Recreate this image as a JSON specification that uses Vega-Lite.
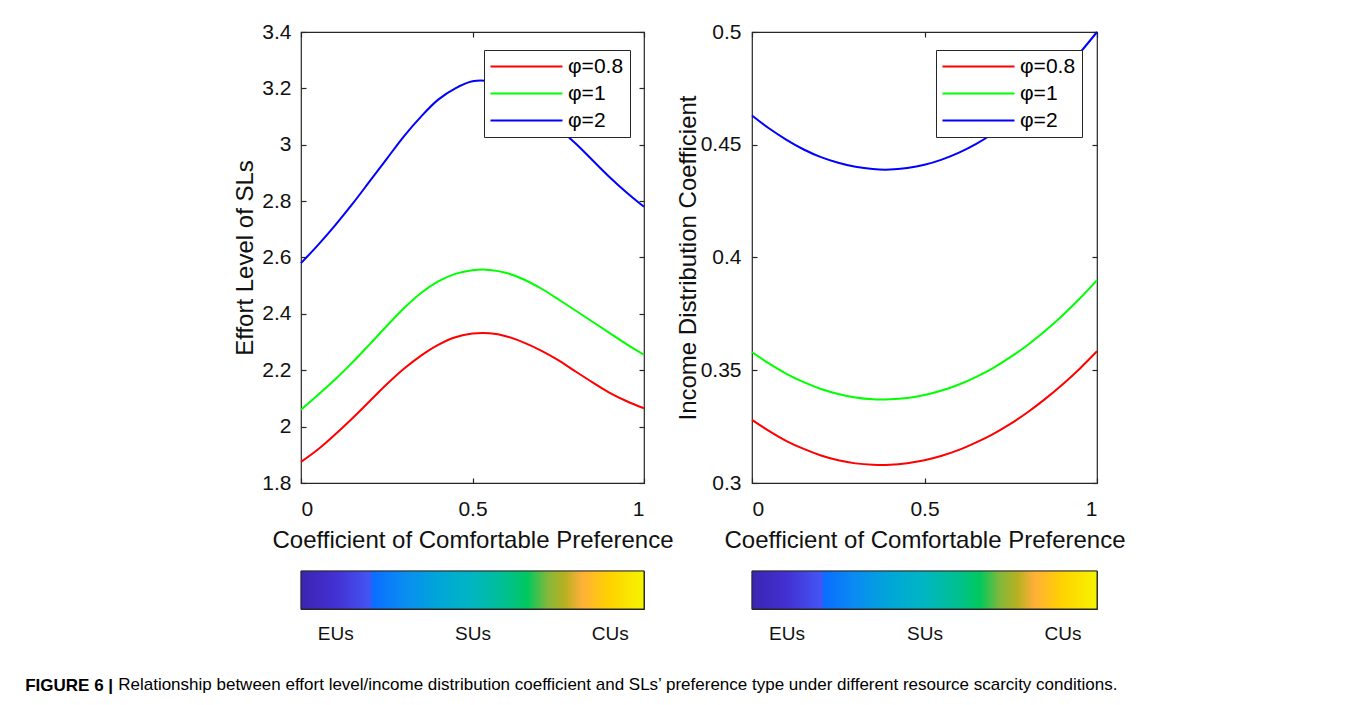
{
  "$schema": "https://vega.github.io/schema/vega-lite/v6.json",
  "padding": {"left": 25, "top": 20, "right": 5, "bottom": 5},
  "background": "white",
  "title": {
    "text": "Relationship between effort level/income distribution coefficient and SLs’ preference type under different resource scarcity conditions.",
    "orient": "bottom", "anchor": "start", "fontSize": 17, "font": "Liberation Sans", "fontWeight": "normal",
    "color": "#000000", "offset": -17, "dx": 93
  },
  "datasets": {
    "effort": [
      {"c":0,"phi":"φ=0.8","v":1.875},{"c":0.05,"phi":"φ=0.8","v":1.92},{"c":0.1,"phi":"φ=0.8","v":1.973},{"c":0.15,"phi":"φ=0.8","v":2.03},{"c":0.2,"phi":"φ=0.8","v":2.09},{"c":0.25,"phi":"φ=0.8","v":2.15},{"c":0.3,"phi":"φ=0.8","v":2.205},{"c":0.35,"phi":"φ=0.8","v":2.252},{"c":0.4,"phi":"φ=0.8","v":2.29},{"c":0.45,"phi":"φ=0.8","v":2.317},{"c":0.5,"phi":"φ=0.8","v":2.33},{"c":0.55,"phi":"φ=0.8","v":2.331},{"c":0.6,"phi":"φ=0.8","v":2.32},{"c":0.65,"phi":"φ=0.8","v":2.298},{"c":0.7,"phi":"φ=0.8","v":2.27},{"c":0.75,"phi":"φ=0.8","v":2.236},{"c":0.8,"phi":"φ=0.8","v":2.196},{"c":0.85,"phi":"φ=0.8","v":2.157},{"c":0.9,"phi":"φ=0.8","v":2.12},{"c":0.95,"phi":"φ=0.8","v":2.09},{"c":1,"phi":"φ=0.8","v":2.065},
      {"c":0,"phi":"φ=1","v":2.06},{"c":0.05,"phi":"φ=1","v":2.113},{"c":0.1,"phi":"φ=1","v":2.168},{"c":0.15,"phi":"φ=1","v":2.228},{"c":0.2,"phi":"φ=1","v":2.292},{"c":0.25,"phi":"φ=1","v":2.357},{"c":0.3,"phi":"φ=1","v":2.42},{"c":0.35,"phi":"φ=1","v":2.474},{"c":0.4,"phi":"φ=1","v":2.515},{"c":0.45,"phi":"φ=1","v":2.542},{"c":0.5,"phi":"φ=1","v":2.555},{"c":0.55,"phi":"φ=1","v":2.556},{"c":0.6,"phi":"φ=1","v":2.545},{"c":0.65,"phi":"φ=1","v":2.522},{"c":0.7,"phi":"φ=1","v":2.49},{"c":0.75,"phi":"φ=1","v":2.452},{"c":0.8,"phi":"φ=1","v":2.412},{"c":0.85,"phi":"φ=1","v":2.372},{"c":0.9,"phi":"φ=1","v":2.332},{"c":0.95,"phi":"φ=1","v":2.292},{"c":1,"phi":"φ=1","v":2.255},
      {"c":0,"phi":"φ=2","v":2.58},{"c":0.05,"phi":"φ=2","v":2.645},{"c":0.1,"phi":"φ=2","v":2.715},{"c":0.15,"phi":"φ=2","v":2.79},{"c":0.2,"phi":"φ=2","v":2.87},{"c":0.25,"phi":"φ=2","v":2.95},{"c":0.3,"phi":"φ=2","v":3.03},{"c":0.35,"phi":"φ=2","v":3.1},{"c":0.4,"phi":"φ=2","v":3.16},{"c":0.45,"phi":"φ=2","v":3.2},{"c":0.5,"phi":"φ=2","v":3.225},{"c":0.55,"phi":"φ=2","v":3.225},{"c":0.6,"phi":"φ=2","v":3.205},{"c":0.65,"phi":"φ=2","v":3.165},{"c":0.7,"phi":"φ=2","v":3.115},{"c":0.75,"phi":"φ=2","v":3.06},{"c":0.8,"phi":"φ=2","v":3.005},{"c":0.85,"phi":"φ=2","v":2.945},{"c":0.9,"phi":"φ=2","v":2.885},{"c":0.95,"phi":"φ=2","v":2.83},{"c":1,"phi":"φ=2","v":2.78}
    ],
    "income": [
      {"c":0,"phi":"φ=0.8","v":0.328},{"c":0.05,"phi":"φ=0.8","v":0.323},{"c":0.1,"phi":"φ=0.8","v":0.3186},{"c":0.15,"phi":"φ=0.8","v":0.3151},{"c":0.2,"phi":"φ=0.8","v":0.3122},{"c":0.25,"phi":"φ=0.8","v":0.3101},{"c":0.3,"phi":"φ=0.8","v":0.3087},{"c":0.35,"phi":"φ=0.8","v":0.3081},{"c":0.4,"phi":"φ=0.8","v":0.3081},{"c":0.45,"phi":"φ=0.8","v":0.3088},{"c":0.5,"phi":"φ=0.8","v":0.3101},{"c":0.55,"phi":"φ=0.8","v":0.3121},{"c":0.6,"phi":"φ=0.8","v":0.3147},{"c":0.65,"phi":"φ=0.8","v":0.318},{"c":0.7,"phi":"φ=0.8","v":0.3218},{"c":0.75,"phi":"φ=0.8","v":0.3263},{"c":0.8,"phi":"φ=0.8","v":0.3315},{"c":0.85,"phi":"φ=0.8","v":0.3373},{"c":0.9,"phi":"φ=0.8","v":0.3437},{"c":0.95,"phi":"φ=0.8","v":0.3507},{"c":1,"phi":"φ=0.8","v":0.3584},
      {"c":0,"phi":"φ=1","v":0.3581},{"c":0.05,"phi":"φ=1","v":0.3529},{"c":0.1,"phi":"φ=1","v":0.3484},{"c":0.15,"phi":"φ=1","v":0.3447},{"c":0.2,"phi":"φ=1","v":0.3417},{"c":0.25,"phi":"φ=1","v":0.3395},{"c":0.3,"phi":"φ=1","v":0.3379},{"c":0.35,"phi":"φ=1","v":0.3371},{"c":0.4,"phi":"φ=1","v":0.3371},{"c":0.45,"phi":"φ=1","v":0.3377},{"c":0.5,"phi":"φ=1","v":0.339},{"c":0.55,"phi":"φ=1","v":0.341},{"c":0.6,"phi":"φ=1","v":0.3437},{"c":0.65,"phi":"φ=1","v":0.3471},{"c":0.7,"phi":"φ=1","v":0.3511},{"c":0.75,"phi":"φ=1","v":0.3559},{"c":0.8,"phi":"φ=1","v":0.3613},{"c":0.85,"phi":"φ=1","v":0.3675},{"c":0.9,"phi":"φ=1","v":0.3743},{"c":0.95,"phi":"φ=1","v":0.3818},{"c":1,"phi":"φ=1","v":0.39},
      {"c":0,"phi":"φ=2","v":0.463},{"c":0.05,"phi":"φ=2","v":0.4572},{"c":0.1,"phi":"φ=2","v":0.4522},{"c":0.15,"phi":"φ=2","v":0.4479},{"c":0.2,"phi":"φ=2","v":0.4445},{"c":0.25,"phi":"φ=2","v":0.442},{"c":0.3,"phi":"φ=2","v":0.4402},{"c":0.35,"phi":"φ=2","v":0.4392},{"c":0.4,"phi":"φ=2","v":0.439},{"c":0.45,"phi":"φ=2","v":0.4397},{"c":0.5,"phi":"φ=2","v":0.4411},{"c":0.55,"phi":"φ=2","v":0.4434},{"c":0.6,"phi":"φ=2","v":0.4465},{"c":0.65,"phi":"φ=2","v":0.4504},{"c":0.7,"phi":"φ=2","v":0.4551},{"c":0.75,"phi":"φ=2","v":0.4606},{"c":0.8,"phi":"φ=2","v":0.4669},{"c":0.85,"phi":"φ=2","v":0.474},{"c":0.9,"phi":"φ=2","v":0.482},{"c":0.95,"phi":"φ=2","v":0.4907},{"c":1,"phi":"φ=2","v":0.5}
    ],
    "bar": [{"from": 0, "to": 1}]
  },
  "vconcat": [
    {
      "title": {
        "text": "FIGURE 6 |", "orient": "bottom", "anchor": "start", "fontSize": 17, "font": "Liberation Sans",
        "fontWeight": "bold", "color": "#000000", "offset": 34, "dx": -208
      },
      "spacing": 1,
      "hconcat": [
        {
          "spacing": 16,
          "vconcat": [
            {
              "width": 343, "height": 451,
              "data": {"name": "effort"},
              "layer": [
                {
                  "mark": {"type": "line", "strokeWidth": 2, "interpolate": "catmull-rom"},
                  "encoding": {
                    "x": {"field": "c", "type": "quantitative", "scale": {"domain": [0, 1], "nice": false},
                          "axis": {"values": [0, 0.5, 1], "format": "~g", "title": "Coefficient of Comfortable Preference", "labelPadding": 20.4, "titlePadding": 9}},
                    "y": {"field": "v", "type": "quantitative", "scale": {"domain": [1.8, 3.4], "nice": false, "zero": false},
                          "axis": {"values": [1.8, 2, 2.2, 2.4, 2.6, 2.8, 3, 3.2, 3.4], "format": "~g", "title": "Effort Level of SLs", "labelPadding": 15, "titlePadding": 4}},
                    "color": {"field": "phi", "type": "nominal",
                              "scale": {"domain": ["φ=0.8", "φ=1", "φ=2"], "range": ["#ff0000", "#00ff00", "#0000ff"]},
                              "legend": {"orient": "none", "legendX": 183, "legendY": 18, "title": null,
                                         "symbolType": "M-4,0H4", "symbolSize": 324, "symbolStrokeWidth": 2, "symbolOffset": 26,
                                         "labelOffset": 31, "labelFontSize": 21, "labelFont": "Liberation Sans", "labelColor": "#000000",
                                         "padding": 6, "rowPadding": 5, "strokeColor": "#262626", "fillColor": "white"}}
                  }
                },
                {
                  "mark": {"type": "line", "opacity": 0},
                  "encoding": {
                    "x": {"field": "c", "type": "quantitative", "axis": {"orient": "top", "values": [0, 0.5, 1], "labels": false, "title": null}},
                    "y": {"field": "v", "type": "quantitative", "axis": {"orient": "right", "values": [1.8, 2, 2.2, 2.4, 2.6, 2.8, 3, 3.2, 3.4], "labels": false, "title": null}},
                    "detail": {"field": "phi"}
                  }
                }
              ],
              "resolve": {"axis": {"x": "independent", "y": "independent"}}
            },
            {
              "width": 343, "height": 38,
              "data": {"name": "bar"},
              "mark": {"type": "rect", "stroke": "#262626", "strokeWidth": 1,
                       "fill": {"gradient": "linear", "x1": 0, "y1": 0, "x2": 1, "y2": 0, "stops": [
                         {"offset": 0, "color": "#3a25b2"}, {"offset": 0.1, "color": "#4330d2"}, {"offset": 0.2, "color": "#4455f4"},
                         {"offset": 0.21, "color": "#0a6eff"}, {"offset": 0.3, "color": "#0a8cf2"}, {"offset": 0.4, "color": "#00a6d8"},
                         {"offset": 0.5, "color": "#00b6c2"}, {"offset": 0.6, "color": "#00c08e"}, {"offset": 0.66, "color": "#00c85e"},
                         {"offset": 0.72, "color": "#84b83a"}, {"offset": 0.77, "color": "#b8b020"}, {"offset": 0.82, "color": "#ffb038"},
                         {"offset": 0.9, "color": "#ffd200"}, {"offset": 1, "color": "#f5f500"}]}},
              "encoding": {
                "x": {"field": "from", "type": "quantitative", "scale": {"domain": [0, 1], "nice": false},
                      "axis": {"values": [0.1, 0.5, 0.9], "title": null, "tickSize": -4, "labelPadding": 19.8, "labelFontSize": 19,
                               "labelExpr": "datum.value < 0.3 ? 'EUs' : datum.value < 0.7 ? 'SUs' : 'CUs'"}},
                "x2": {"field": "to"}
              }
            }
          ]
        },
        {
          "spacing": 16,
          "vconcat": [
            {
              "width": 345, "height": 451,
              "data": {"name": "income"},
              "layer": [
                {
                  "mark": {"type": "line", "strokeWidth": 2, "interpolate": "catmull-rom"},
                  "encoding": {
                    "x": {"field": "c", "type": "quantitative", "scale": {"domain": [0, 1], "nice": false},
                          "axis": {"values": [0, 0.5, 1], "format": "~g", "title": "Coefficient of Comfortable Preference", "labelPadding": 20.4, "titlePadding": 9}},
                    "y": {"field": "v", "type": "quantitative", "scale": {"domain": [0.3, 0.5], "nice": false, "zero": false},
                          "axis": {"values": [0.3, 0.35, 0.4, 0.45, 0.5], "format": "~g", "title": "Income Distribution Coefficient", "labelPadding": 16, "titlePadding": 0}},
                    "color": {"field": "phi", "type": "nominal",
                              "scale": {"domain": ["φ=0.8", "φ=1", "φ=2"], "range": ["#ff0000", "#00ff00", "#0000ff"]},
                              "legend": {"orient": "none", "legendX": 184, "legendY": 18, "title": null,
                                         "symbolType": "M-4,0H4", "symbolSize": 324, "symbolStrokeWidth": 2, "symbolOffset": 26,
                                         "labelOffset": 31, "labelFontSize": 21, "labelFont": "Liberation Sans", "labelColor": "#000000",
                                         "padding": 6, "rowPadding": 5, "strokeColor": "#262626", "fillColor": "white"}}
                  }
                },
                {
                  "mark": {"type": "line", "opacity": 0},
                  "encoding": {
                    "x": {"field": "c", "type": "quantitative", "axis": {"orient": "top", "values": [0, 0.5, 1], "labels": false, "title": null}},
                    "y": {"field": "v", "type": "quantitative", "axis": {"orient": "right", "values": [0.3, 0.35, 0.4, 0.45, 0.5], "labels": false, "title": null}},
                    "detail": {"field": "phi"}
                  }
                }
              ],
              "resolve": {"axis": {"x": "independent", "y": "independent"}}
            },
            {
              "width": 345, "height": 38,
              "data": {"name": "bar"},
              "mark": {"type": "rect", "stroke": "#262626", "strokeWidth": 1,
                       "fill": {"gradient": "linear", "x1": 0, "y1": 0, "x2": 1, "y2": 0, "stops": [
                         {"offset": 0, "color": "#3a25b2"}, {"offset": 0.1, "color": "#4330d2"}, {"offset": 0.2, "color": "#4455f4"},
                         {"offset": 0.21, "color": "#0a6eff"}, {"offset": 0.3, "color": "#0a8cf2"}, {"offset": 0.4, "color": "#00a6d8"},
                         {"offset": 0.5, "color": "#00b6c2"}, {"offset": 0.6, "color": "#00c08e"}, {"offset": 0.66, "color": "#00c85e"},
                         {"offset": 0.72, "color": "#84b83a"}, {"offset": 0.77, "color": "#b8b020"}, {"offset": 0.82, "color": "#ffb038"},
                         {"offset": 0.9, "color": "#ffd200"}, {"offset": 1, "color": "#f5f500"}]}},
              "encoding": {
                "x": {"field": "from", "type": "quantitative", "scale": {"domain": [0, 1], "nice": false},
                      "axis": {"values": [0.1, 0.5, 0.9], "title": null, "tickSize": -4, "labelPadding": 19.8, "labelFontSize": 19,
                               "labelExpr": "datum.value < 0.3 ? 'EUs' : datum.value < 0.7 ? 'SUs' : 'CUs'"}},
                "x2": {"field": "to"}
              }
            }
          ]
        }
      ],
      "resolve": {"scale": {"color": "independent"}, "legend": {"color": "independent"}}
    }
  ],
  "config": {
    "font": "Liberation Sans",
    "view": {"stroke": "#262626", "strokeWidth": 1.2},
    "axis": {"labelFont": "Liberation Sans", "labelFontSize": 21, "labelColor": "#111111",
             "titleFont": "Liberation Sans", "titleFontSize": 24, "titleFontWeight": "normal", "titleColor": "#111111",
             "grid": false, "domain": false, "tickColor": "#262626", "tickSize": -5, "tickWidth": 1.2}
  }
}
